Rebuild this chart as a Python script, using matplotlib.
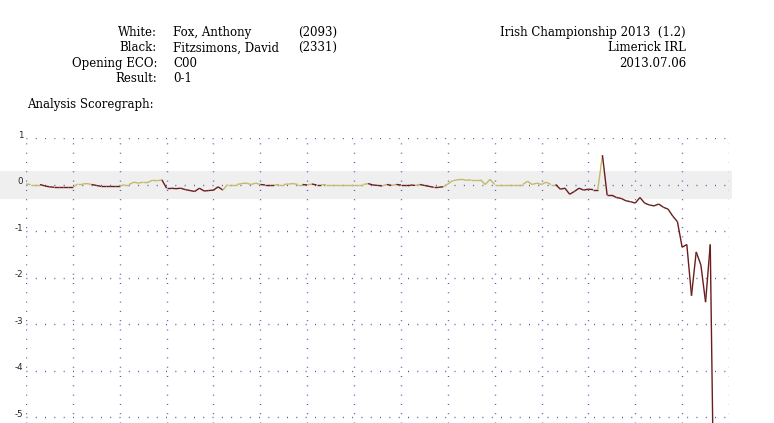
import matplotlib
matplotlib.use("Agg")
import matplotlib.pyplot as plt
import matplotlib.transforms as mtransforms
from matplotlib.collections import LineCollection
from matplotlib.patches import Rectangle
import numpy as np

# header info
left_labels = ["White:", "Black:", "Opening ECO:", "Result:"]
left_values = ["Fox, Anthony", "Fitzsimons, David", "C00", "0-1"]
ratings = ["(2093)", "(2331)"]
right_lines = ["Irish Championship 2013  (1.2)", "Limerick IRL", "2013.07.06"]
section_title = "Analysis Scoregraph:"

# evaluation per ply (pawns, white's view)
scores = [
    0.01, 0.0, 0.0, 0.0, -0.03, -0.05, -0.06, -0.06, -0.06, -0.06,
    -0.06, 0.01, 0.01, 0.02, 0.0, -0.02, -0.04, -0.04, -0.04, -0.04,
    -0.04, 0.0, 0.0, 0.05, 0.03, 0.05, 0.05, 0.09, 0.08, 0.1,
    -0.08, -0.08, -0.09, -0.08, -0.11, -0.13, -0.15, -0.08, -0.14, -0.13,
    -0.12, -0.05, -0.12, 0.0, 0.0, 0.0, 0.02, 0.03, 0.0, 0.03,
    0.0, -0.01, -0.01, -0.01, 0.0, 0.0, 0.01, 0.02, 0.0, 0.0,
    -0.01, 0.01, -0.01, -0.01, 0.0, 0.0, 0.0, 0.0, 0.0, 0.0,
    0.0, 0.0, 0.0, 0.02, -0.01, -0.02, -0.03, 0.0, -0.02, 0.0,
    -0.01, -0.01, -0.01, -0.02, 0.0, -0.02, -0.04, -0.06, -0.06, -0.05,
    0.01, 0.08, 0.1, 0.11, 0.09, 0.1, 0.1, 0.1, 0.0, 0.11,
    0.0, 0.0, 0.0, 0.0, 0.0, 0.0, 0.0, 0.07, 0.0, 0.03,
    0.0, 0.05, 0.0, 0.0, -0.1, -0.08, -0.21, -0.15, -0.08, -0.12,
    -0.1, -0.11, -0.11, 0.63, -0.23, -0.23, -0.28, -0.3, -0.35, -0.37,
    -0.4, -0.28, -0.4, -0.44, -0.46, -0.42, -0.49, -0.53, -0.68, -0.8,
    -1.35, -1.29, -2.39, -1.45, -1.73, -2.53, -1.29, -8.7,
]
y_ticks = [1, 0, -1, -2, -3, -4, -5]
x_grid = list(range(0, 151, 10))
band = (-0.32, 0.29)

plt.rcParams["lines.scale_dashes"] = False

W, H = 774, 423
fig = plt.figure(figsize=(W / 100, H / 100), dpi=100)

ax_left, ax_right = 26, 729
ax_top = 138
px_per_unit = 46.5
ymin = -5 - (H - (ax_top + 6 * px_per_unit)) / px_per_unit
ax = fig.add_axes([ax_left / W, 0, (ax_right - ax_left) / W, 1 - ax_top / H])
ax.set_facecolor("none")
ax.set_xlim(0, 150)
ax.set_ylim(ymin, 1)
for s in ax.spines.values():
    s.set_visible(False)

# grey "equal" band running from the left edge of the page
trans = mtransforms.blended_transform_factory(fig.transFigure, ax.transData)
ax.add_patch(Rectangle((0, band[0]), 732 / W, band[1] - band[0], transform=trans,
                       facecolor="#efefef", edgecolor="none", clip_on=False, zorder=0))

ax.set_xticks(x_grid)
ax.set_yticks(y_ticks)
ax.set_xticklabels([])
ax.set_yticklabels([str(v) for v in y_ticks])
ax.tick_params(axis="both", length=0)
ax.tick_params(axis="y", pad=2, labelsize=6.2, labelcolor="#222222")
ax.grid(True, color="#4646a8", linewidth=1.0, linestyle=(0, (0.65, 6.05)))
ax.set_axisbelow(True)
off = mtransforms.ScaledTranslation(0, 4 / 100, fig.dpi_scale_trans)
for lab in ax.get_yticklabels():
    lab.set_transform(lab.get_transform() + off)

x = np.arange(len(scores))
y = np.array(scores)
segs = [[(x[i], y[i]), (x[i + 1], y[i + 1])] for i in range(len(x) - 1)]
cols = ["#c4b967" if y[i + 1] >= 0 else "#6b1c1c" for i in range(len(x) - 1)]
ax.add_collection(LineCollection(segs, colors=cols, linewidths=1.0, zorder=3))

# header text
serif = ["DejaVu Serif"]
fs = 8.5
for i, (lab, val) in enumerate(zip(left_labels, left_values)):
    yb = 1 - (36 + i * 15.3) / H
    fig.text(157 / W, yb, lab, ha="right", va="baseline", family=serif, fontsize=fs)
    fig.text(173 / W, yb, val, ha="left", va="baseline", family=serif, fontsize=fs)
for i, r in enumerate(ratings):
    fig.text(298 / W, 1 - (36 + i * 15.3) / H, r, ha="left", va="baseline",
             family=serif, fontsize=fs)
for i, t in enumerate(right_lines):
    fig.text(686 / W, 1 - (36 + i * 15.3) / H, t, ha="right", va="baseline",
             family=serif, fontsize=fs)
fig.text(27 / W, 1 - 108 / H, section_title, ha="left", va="baseline",
         family=serif, fontsize=fs)

fig.savefig("out.png", dpi=100)
